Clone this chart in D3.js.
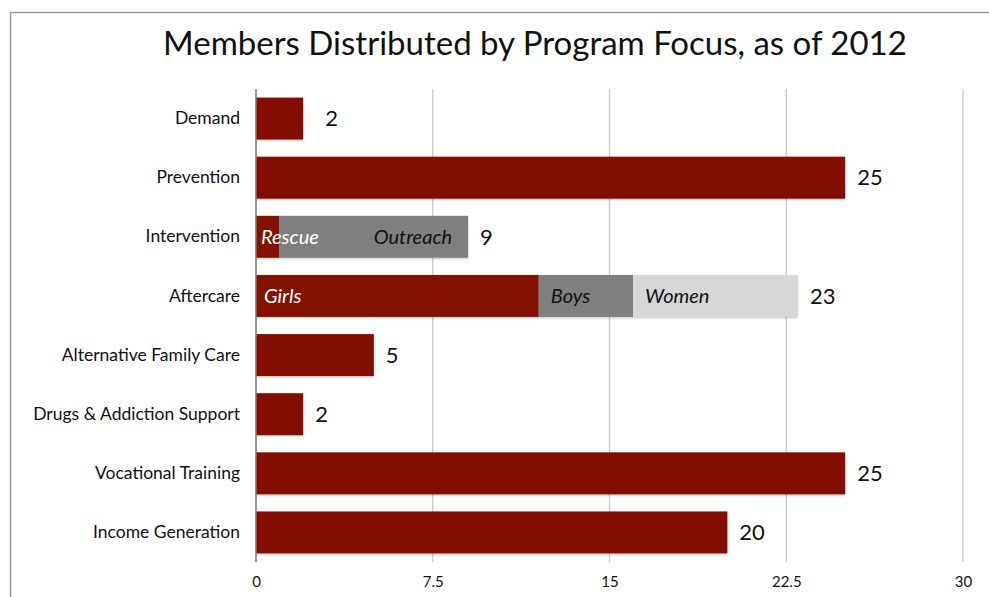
<!DOCTYPE html>
<html>
<head>
<style>
  body { margin: 0; background: #fff; }
  text { font-family: Lato, "Open Sans", sans-serif; }
</style>
</head>
<body>

<script src="https://d3js.org/d3.v7.min.js"></script>

<script>

const width = 989;
const height = 597;

// categories top to bottom
const categories = [
  'Demand', 'Prevention', 'Intervention', 'Aftercare',
  'Alternative Family Care', 'Drugs & Addiction Support',
  'Vocational Training', 'Income Generation'
];
const totals = [2, 25, 9, 23, 5, 2, 25, 20];

// split bars: [category, segment label, value]
const interventionParts = [['Intervention', 'Rescue', 1], ['Intervention', 'Outreach', 8]];
const aftercareParts = [['Aftercare', 'Girls', 12], ['Aftercare', 'Boys', 4], ['Aftercare', 'Women', 7]];

const xTicks = [0, 7.5, 15, 22.5, 30];

const red = '#831100';
const segColors = { Rescue: red, Outreach: '#7f7f7f', Girls: red, Boys: '#7f7f7f', Women: '#d7d7d7' };
const segText = { Rescue: '#fff', Outreach: '#111', Girls: '#fff', Boys: '#111', Women: '#111' };

const svg = d3.select('body')
              .append('svg')
              .attr('width', width)
              .attr('height', height);

const defs = svg.append('defs');
const shadow = defs.append('filter').attr('id', 'shadow')
  .attr('x', '-5%').attr('y', '-20%').attr('width', '110%').attr('height', '150%');
shadow.append('feDropShadow')
  .attr('dx', 0).attr('dy', 1).attr('stdDeviation', 1.2)
  .attr('flood-color', '#000').attr('flood-opacity', 0.25);

// frame
svg.append('path')
  .attr('d', `M10.5,${height} V12.5 H${width}`)
  .attr('fill', 'none')
  .attr('stroke', '#9a9a9a')
  .attr('stroke-width', 1.5);

svg.append('text')
  .attr('x', 535)
  .attr('y', 55)
  .attr('text-anchor', 'middle')
  .attr('font-size', 33)
  .attr('fill', '#111')
  .text('Members Distributed by Program Focus, as of 2012');

const x = d3.scaleLinear().domain([0, 30]).range([256, 963]);
const y = d3.scaleBand().domain(categories).range([89, 562]).paddingInner(0.29).paddingOuter(0.145);

// gridlines
svg.append('g')
  .selectAll('line')
  .data(xTicks.slice(1))
  .enter()
  .append('line')
    .attr('x1', d => x(d)).attr('x2', d => x(d))
    .attr('y1', 89).attr('y2', 562)
    .attr('stroke', '#c8c8c8')
    .attr('stroke-width', 1.3);

// x axis labels
const xAxis = svg.append('g')
  .attr('transform', 'translate(0,562)')
  .call(d3.axisBottom(x).tickValues(xTicks).tickSize(0).tickPadding(14).tickFormat(d => d));
xAxis.select('.domain').remove();
xAxis.selectAll('text')
  .attr('font-family', 'Lato, sans-serif')
  .attr('font-size', 15)
  .attr('fill', '#111');

// y axis labels
const yAxis = svg.append('g')
  .attr('transform', 'translate(256,0)')
  .call(d3.axisLeft(y).tickSize(0).tickPadding(16));
yAxis.select('.domain').remove();
yAxis.selectAll('text')
  .attr('font-family', 'Lato, sans-serif')
  .attr('font-size', 17.5)
  .attr('fill', '#111');

// plain bars
const plain = categories.map((c, i) => [c, totals[i]])
  .filter(d => d[0] !== 'Intervention' && d[0] !== 'Aftercare');

svg.append('g')
  .selectAll('rect')
  .data(plain)
  .enter()
  .append('rect')
    .attr('x', x(0))
    .attr('y', d => y(d[0]))
    .attr('width', d => x(d[1]) - x(0))
    .attr('height', y.bandwidth())
    .attr('fill', red)
    .attr('filter', 'url(#shadow)');

// stacked bars
function stack(parts) {
  let acc = 0;
  return parts.map(p => {
    const s = { cat: p[0], name: p[1], x0: acc, x1: acc + p[2] };
    acc += p[2];
    return s;
  });
}
const segs = stack(interventionParts).concat(stack(aftercareParts));

const segG = svg.append('g');
['Intervention', 'Aftercare'].forEach(cat => {
  const s = segs.filter(d => d.cat === cat);
  segG.append('rect')
    .attr('x', x(0)).attr('y', y(cat))
    .attr('width', x(s[s.length - 1].x1) - x(0))
    .attr('height', y.bandwidth())
    .attr('fill', '#fff')
    .attr('filter', 'url(#shadow)');
});
segG.selectAll('rect.seg')
  .data(segs)
  .enter()
  .append('rect')
    .attr('class', 'seg')
    .attr('x', d => x(d.x0))
    .attr('y', d => y(d.cat))
    .attr('width', d => x(d.x1) - x(d.x0))
    .attr('height', y.bandwidth())
    .attr('fill', d => segColors[d.name]);

segG.selectAll('text')
  .data(segs)
  .enter()
  .append('text')
    .attr('x', d => d.name === 'Outreach' ? x(d.x1) - 16 : x(d.x0) + (d.name === 'Rescue' ? 5 : d.name === 'Girls' ? 8 : 12))
    .attr('y', d => y(d.cat) + y.bandwidth() / 2)
    .attr('dy', '0.35em')
    .attr('text-anchor', d => d.name === 'Outreach' ? 'end' : 'start')
    .attr('font-size', 20)
    .attr('font-style', 'italic')
    .attr('fill', d => segText[d.name])
    .text(d => d.name);

// total labels
svg.append('g')
  .selectAll('text')
  .data(categories)
  .enter()
  .append('text')
    .attr('x', (d, i) => x(totals[i]) + (i === 0 ? 22 : 12))
    .attr('y', d => y(d) + y.bandwidth() / 2)
    .attr('dy', '0.35em')
    .attr('font-size', 22)
    .attr('fill', '#111')
    .text((d, i) => totals[i]);

// axis line
svg.append('line')
  .attr('x1', x(0)).attr('x2', x(0))
  .attr('y1', 89).attr('y2', 562)
  .attr('stroke', '#777')
  .attr('stroke-width', 1.5);

</script>
</body>
</html>
